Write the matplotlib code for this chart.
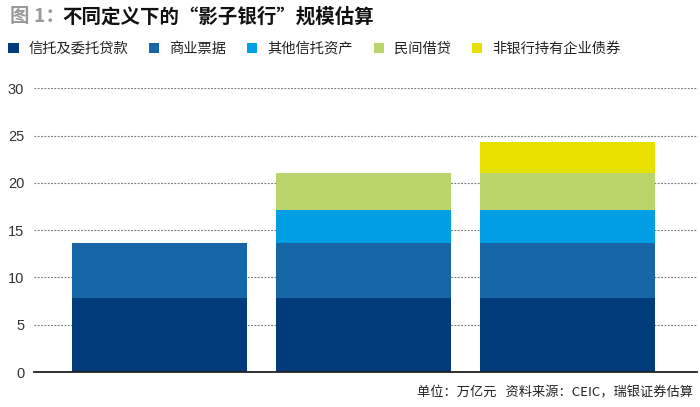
import matplotlib
matplotlib.use("Agg")
import matplotlib.pyplot as plt
from matplotlib.patches import Patch
import numpy as np

plt.rcParams['font.family'] = ['Noto Sans CJK SC', 'DejaVu Sans']

categories = ["定义一", "定义二", "定义三"]
series_names = ["信托及委托贷款", "商业票据", "其他信托资产", "民间借贷", "非银行持有企业债券"]
trust_loans = [7.8, 7.8, 7.8]
comm_bills = [5.8, 5.8, 5.8]
other_trust = [0.0, 3.5, 3.5]
private_lending = [0.0, 3.9, 3.9]
corp_bonds = [0.0, 0.0, 3.3]
series_values = [trust_loans, comm_bills, other_trust, private_lending, corp_bonds]
colors = ["#003B7A", "#1666A8", "#009EE2", "#B9D56C", "#E8E100"]
yticks = [0, 5, 10, 15, 20, 25, 30]

fig = plt.figure(figsize=(7, 4.07), dpi=100)
ax = fig.add_axes([34/700, 1 - 372/407, (697 - 34)/700, (372 - 88.3)/407])

x = np.arange(len(categories))
bottom = np.zeros(len(categories))
for vals, c in zip(series_values, colors):
    v = np.array(vals)
    ax.bar(x, v, bottom=bottom, width=0.857, color=c, zorder=3, linewidth=0)
    bottom += v

ax.set_ylim(0, 30)
ax.set_xlim(-0.613, 2.635)
ax.set_yticks(yticks)
ax.set_yticklabels([str(t) for t in yticks], fontfamily=['Liberation Sans', 'DejaVu Sans'],
                   fontsize=10.5, color='#333333')
ax.set_xticks([])
ax.tick_params(axis='y', length=0, pad=7)
for s in ['top', 'right', 'left']:
    ax.spines[s].set_visible(False)
ax.spines['bottom'].set_color('#222222')
ax.spines['bottom'].set_linewidth(1.3)
ax.spines['bottom'].set_zorder(4)
ax.yaxis.grid(True, linestyle=(0, (1.6, 1.4)), color='#777777', linewidth=0.8, zorder=0)
ax.set_axisbelow(True)

# Title
fig.text(10/700, 1 - 17/407, "图 1：", fontsize=14, color='#9A9A9A', fontweight='bold', va='center', ha='left')
fig.text(62/700, 1 - 17/407, "不同定义下的“影子银行”规模估算", fontsize=14, color='#111111',
         fontweight='bold', va='center', ha='left')

handles = [Patch(facecolor=c, edgecolor='none') for c in colors]
fig.legend(handles, series_names, loc='center left', bbox_to_anchor=(4/700, 1 - 49/407),
           ncol=5, frameon=False, fontsize=10.3, handlelength=0.72, handleheight=0.72,
           handletextpad=0.7, columnspacing=1.45, borderaxespad=0, borderpad=0.3,
           labelcolor='#222222')

fig.text(693/700, 1 - 393/407, "单位：万亿元   资料来源：CEIC，瑞银证券估算", fontsize=9.5,
         color='#222222', ha='right', va='center')

fig.savefig("out.png", dpi=100)
